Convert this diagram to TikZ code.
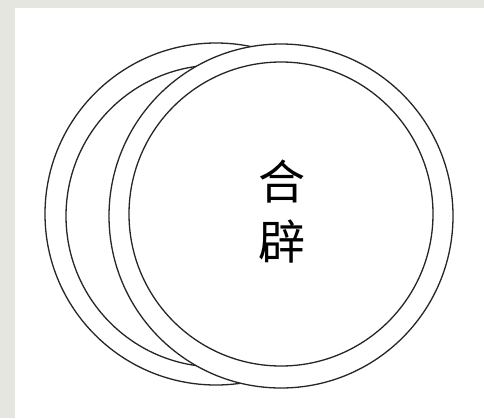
\documentclass[tikz,border=0pt]{standalone}
\usepackage{fontspec}
\newfontfamily\cjk{Noto Sans CJK SC}
\definecolor{bordergray}{HTML}{E6E6E0}
\begin{document}
\begin{tikzpicture}[x=1pt,y=-1pt,
  ring/.style={draw=black!85, line width=1.3pt},
  glyph/.style={font=\cjk\fontsize{47}{47}\selectfont, inner sep=0pt}]
\useasboundingbox (0,0) rectangle (484,418);
\fill[bordergray] (0,0) rectangle (484,418);
\fill[white] (15,8) rectangle (484,418);
% back ring
\draw[ring] (216,214) circle[radius=171pt];
\draw[ring] (217,216) circle[radius=151pt];
% front ring
\draw[ring, fill=white] (281,216) circle[radius=172pt];
\draw[ring] (281,214) circle[radius=152pt];
\node[glyph] (he) at (282,182) {合};
\node[glyph] (pi) at (282,242) {辟};
\end{tikzpicture}
\end{document}
